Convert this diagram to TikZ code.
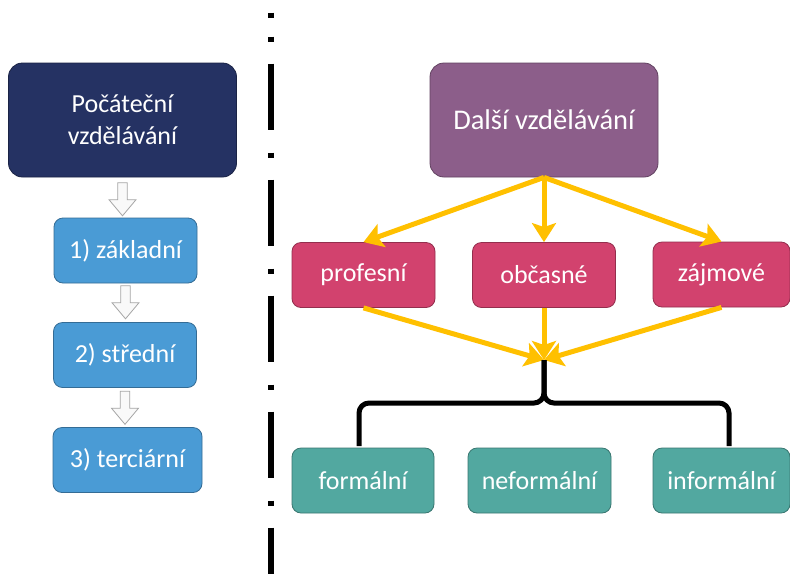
\documentclass[tikz,border=0pt]{standalone}
\usepackage{fontspec}
\setmainfont{Carlito}
\usepackage{xcolor}
\usepackage{tikz}
\usetikzlibrary {positioning}
\usetikzlibrary{arrows.meta,shapes.arrows}
\definecolor{navy}{HTML}{253263}
\definecolor{skyblue}{HTML}{4A9BD5}
\definecolor{plum}{HTML}{8C5E8A}
\definecolor{rose}{HTML}{D2426E}
\definecolor{sea}{HTML}{52A8A0}
\definecolor{amber}{HTML}{FFC000}
\tikzset{edge/.style = {-{Stealth[length=19pt,width=24pt,inset=4pt]}, amber, line width=5pt}}

\begin{document}
\begin{tikzpicture}[x=1pt,y=-1pt,
    main node/.style={rectangle,rounded corners=9pt,draw,line width=0.8pt,text=white,font=\fontsize{26}{32}\selectfont,align=center,inner sep=0pt},
    big node/.style={main node,rounded corners=14pt,minimum width=228pt,minimum height=114pt},
    small node/.style={main node,minimum width=143pt,minimum height=65pt},
    down arrow/.style={single arrow,shape border rotate=270,draw=gray!70,fill=gray!5,line width=0.8pt,inner sep=3.5pt,minimum height=33pt,minimum width=27pt,single arrow tip angle=80},
    brace line/.style={line width=5pt,rounded corners=10pt},
    divider/.style={line width=6.5pt,dash pattern=on 5pt off 22pt on 66pt off 23pt}]
                \fill[white] (0,0) rectangle (790,574);
                \useasboundingbox (0,0) rectangle (790,574);

                % left column
                \node[big node,fill=navy,draw=navy!70!black] (1) at (122.5,120) {Počáteční\\vzdělávání};
                \node[down arrow,below=5pt of 1] (12) {};
                \node[small node,fill=skyblue,draw=skyblue!70!black] (2) at (125.5,250.5) {1) základní};
                \node[down arrow,below=2pt of 2] (13) {};
                \node[small node,fill=skyblue,draw=skyblue!70!black] (3) at (125,355) {2) střední};
                \node[down arrow,below=3pt of 3] (14) {};
                \node[small node,fill=skyblue,draw=skyblue!70!black,minimum width=149pt] (4) at (127.5,460) {3) terciární};

                % divider
                \draw[divider,dash pattern=] (271,12.5) -- (271,17.5);
                \draw[divider] (271,36.5) -- (271,574);

                % right side
                \node[big node,fill=plum,draw=plum!70!black,font=\fontsize{28.5}{34}\selectfont] (5) at (544,120) {Další vzdělávání};
                \node[small node,fill=rose,draw=rose!70!black] (6) at (363.5,275) {profesní};
                \node[small node,fill=rose,draw=rose!70!black] (7) at (544,275) {občasné};
                \node[small node,fill=rose,draw=rose!70!black,minimum width=137pt] (8) at (721.5,274.5) {zájmové};
                \node[small node,fill=sea,draw=sea!70!black,minimum width=142pt] (9) at (363,480.5) {formální};
                \node[small node,fill=sea,draw=sea!70!black] (10) at (539.5,480.5) {neformální};
                \node[small node,fill=sea,draw=sea!70!black,minimum width=137pt] (11) at (721.5,480.5) {informální};

                \coordinate (m) at (544,360);
                \coordinate (l) at (359,446);
                \coordinate (r) at (729,446);

                \path[edge] (5.south) edge (6.north);
                \path[edge] (5.south) edge (7.north);
                \path[edge] (5.south) edge (8.north);
                \path[edge] (6.south) edge (m);
                \path[edge] (7.south) edge (m);
                \path[edge] (8.south) edge (m);

                \draw[brace line] (m) |- (l |- 0,403) -- (l);
                \draw[brace line] (m) |- (r |- 0,403) -- (r);
            \end{tikzpicture}
\end{document}
